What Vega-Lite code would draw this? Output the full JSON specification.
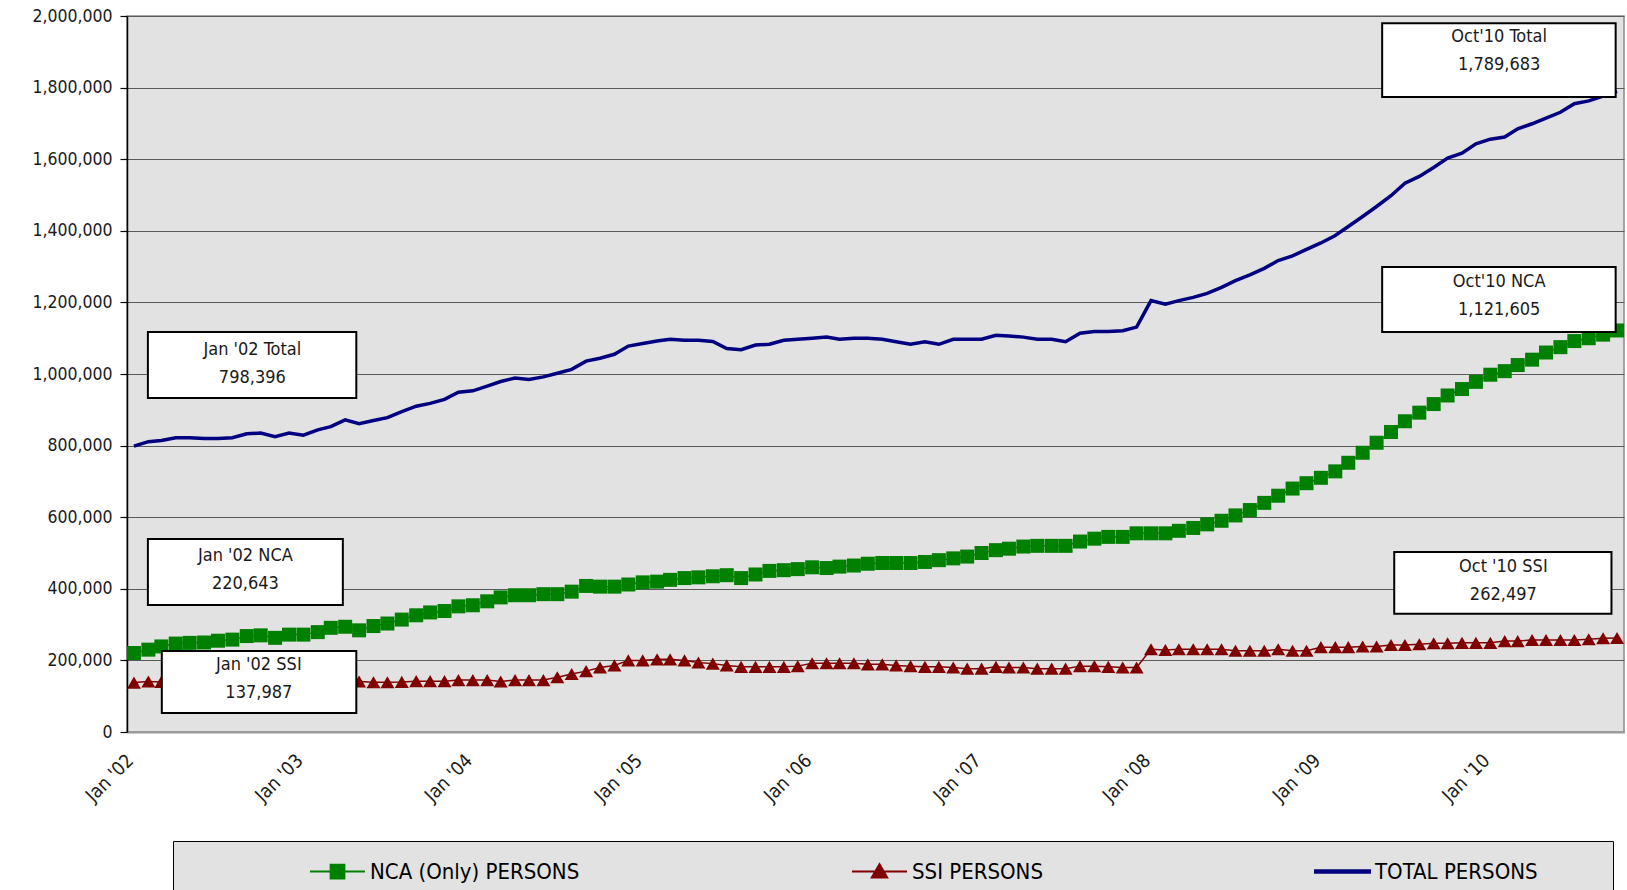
{
  "$schema": "https://vega.github.io/schema/vega-lite/v6.json",
  "width": 1497,
  "height": 716,
  "autosize": {"type": "none"},
  "padding": {"left": 127, "top": 16, "right": 3, "bottom": 158},
  "background": "white",
  "datasets": {
    "series": [
      {"date": "2002-01-01", "nca": 220643, "ssi": 137987, "total": 798396},
      {"date": "2002-02-01", "nca": 230000, "ssi": 141000, "total": 811000},
      {"date": "2002-03-01", "nca": 239000, "ssi": 140000, "total": 814000},
      {"date": "2002-04-01", "nca": 247000, "ssi": 141000, "total": 822000},
      {"date": "2002-05-01", "nca": 249000, "ssi": 140000, "total": 822000},
      {"date": "2002-06-01", "nca": 250000, "ssi": 140000, "total": 820000},
      {"date": "2002-07-01", "nca": 255000, "ssi": 141000, "total": 820000},
      {"date": "2002-08-01", "nca": 258000, "ssi": 140000, "total": 822000},
      {"date": "2002-09-01", "nca": 268000, "ssi": 141000, "total": 833000},
      {"date": "2002-10-01", "nca": 270000, "ssi": 142000, "total": 835000},
      {"date": "2002-11-01", "nca": 263000, "ssi": 139000, "total": 825000},
      {"date": "2002-12-01", "nca": 272000, "ssi": 140000, "total": 835000},
      {"date": "2003-01-01", "nca": 272000, "ssi": 141000, "total": 829000},
      {"date": "2003-02-01", "nca": 279000, "ssi": 141000, "total": 844000},
      {"date": "2003-03-01", "nca": 291000, "ssi": 142000, "total": 853000},
      {"date": "2003-04-01", "nca": 294000, "ssi": 142000, "total": 872000},
      {"date": "2003-05-01", "nca": 284000, "ssi": 141000, "total": 861000},
      {"date": "2003-06-01", "nca": 296000, "ssi": 139000, "total": 870000},
      {"date": "2003-07-01", "nca": 303000, "ssi": 139000, "total": 878000},
      {"date": "2003-08-01", "nca": 314000, "ssi": 140000, "total": 895000},
      {"date": "2003-09-01", "nca": 326000, "ssi": 142000, "total": 910000},
      {"date": "2003-10-01", "nca": 334000, "ssi": 142000, "total": 918000},
      {"date": "2003-11-01", "nca": 338000, "ssi": 142000, "total": 929000},
      {"date": "2003-12-01", "nca": 351000, "ssi": 145000, "total": 949000},
      {"date": "2004-01-01", "nca": 354000, "ssi": 145000, "total": 953000},
      {"date": "2004-02-01", "nca": 365000, "ssi": 145000, "total": 966000},
      {"date": "2004-03-01", "nca": 376000, "ssi": 141000, "total": 979000},
      {"date": "2004-04-01", "nca": 382000, "ssi": 145000, "total": 989000},
      {"date": "2004-05-01", "nca": 382000, "ssi": 145000, "total": 985000},
      {"date": "2004-06-01", "nca": 385000, "ssi": 145000, "total": 992000},
      {"date": "2004-07-01", "nca": 385000, "ssi": 153000, "total": 1002000},
      {"date": "2004-08-01", "nca": 392000, "ssi": 162000, "total": 1013000},
      {"date": "2004-09-01", "nca": 408000, "ssi": 170000, "total": 1036000},
      {"date": "2004-10-01", "nca": 406000, "ssi": 180000, "total": 1044000},
      {"date": "2004-11-01", "nca": 406000, "ssi": 186000, "total": 1055000},
      {"date": "2004-12-01", "nca": 412000, "ssi": 200000, "total": 1078000},
      {"date": "2005-01-01", "nca": 418000, "ssi": 200000, "total": 1085000},
      {"date": "2005-02-01", "nca": 420000, "ssi": 203000, "total": 1092000},
      {"date": "2005-03-01", "nca": 425000, "ssi": 203000, "total": 1097000},
      {"date": "2005-04-01", "nca": 430000, "ssi": 200000, "total": 1094000},
      {"date": "2005-05-01", "nca": 432000, "ssi": 194000, "total": 1094000},
      {"date": "2005-06-01", "nca": 435000, "ssi": 191000, "total": 1091000},
      {"date": "2005-07-01", "nca": 438000, "ssi": 186000, "total": 1071000},
      {"date": "2005-08-01", "nca": 430000, "ssi": 182000, "total": 1068000},
      {"date": "2005-09-01", "nca": 440000, "ssi": 182000, "total": 1081000},
      {"date": "2005-10-01", "nca": 450000, "ssi": 182000, "total": 1083000},
      {"date": "2005-11-01", "nca": 452000, "ssi": 182000, "total": 1094000},
      {"date": "2005-12-01", "nca": 455000, "ssi": 184000, "total": 1097000},
      {"date": "2006-01-01", "nca": 460000, "ssi": 192000, "total": 1100000},
      {"date": "2006-02-01", "nca": 458000, "ssi": 192000, "total": 1103000},
      {"date": "2006-03-01", "nca": 462000, "ssi": 192000, "total": 1097000},
      {"date": "2006-04-01", "nca": 465000, "ssi": 192000, "total": 1100000},
      {"date": "2006-05-01", "nca": 470000, "ssi": 189000, "total": 1100000},
      {"date": "2006-06-01", "nca": 472000, "ssi": 189000, "total": 1097000},
      {"date": "2006-07-01", "nca": 472000, "ssi": 186000, "total": 1090000},
      {"date": "2006-08-01", "nca": 472000, "ssi": 184000, "total": 1083000},
      {"date": "2006-09-01", "nca": 475000, "ssi": 182000, "total": 1090000},
      {"date": "2006-10-01", "nca": 480000, "ssi": 182000, "total": 1083000},
      {"date": "2006-11-01", "nca": 485000, "ssi": 180000, "total": 1097000},
      {"date": "2006-12-01", "nca": 490000, "ssi": 177000, "total": 1097000},
      {"date": "2007-01-01", "nca": 500000, "ssi": 177000, "total": 1097000},
      {"date": "2007-02-01", "nca": 508000, "ssi": 182000, "total": 1108000},
      {"date": "2007-03-01", "nca": 512000, "ssi": 180000, "total": 1106000},
      {"date": "2007-04-01", "nca": 518000, "ssi": 180000, "total": 1103000},
      {"date": "2007-05-01", "nca": 520000, "ssi": 177000, "total": 1097000},
      {"date": "2007-06-01", "nca": 520000, "ssi": 177000, "total": 1097000},
      {"date": "2007-07-01", "nca": 520000, "ssi": 177000, "total": 1090000},
      {"date": "2007-08-01", "nca": 532000, "ssi": 184000, "total": 1114000},
      {"date": "2007-09-01", "nca": 540000, "ssi": 184000, "total": 1119000},
      {"date": "2007-10-01", "nca": 545000, "ssi": 182000, "total": 1119000},
      {"date": "2007-11-01", "nca": 545000, "ssi": 180000, "total": 1121000},
      {"date": "2007-12-01", "nca": 555000, "ssi": 180000, "total": 1131000},
      {"date": "2008-01-01", "nca": 555000, "ssi": 231000, "total": 1205000},
      {"date": "2008-02-01", "nca": 555000, "ssi": 229000, "total": 1195000},
      {"date": "2008-03-01", "nca": 562000, "ssi": 231000, "total": 1205000},
      {"date": "2008-04-01", "nca": 570000, "ssi": 231000, "total": 1214000},
      {"date": "2008-05-01", "nca": 580000, "ssi": 231000, "total": 1225000},
      {"date": "2008-06-01", "nca": 590000, "ssi": 231000, "total": 1242000},
      {"date": "2008-07-01", "nca": 605000, "ssi": 227000, "total": 1261000},
      {"date": "2008-08-01", "nca": 620000, "ssi": 227000, "total": 1277000},
      {"date": "2008-09-01", "nca": 640000, "ssi": 227000, "total": 1295000},
      {"date": "2008-10-01", "nca": 660000, "ssi": 231000, "total": 1317000},
      {"date": "2008-11-01", "nca": 680000, "ssi": 227000, "total": 1330000},
      {"date": "2008-12-01", "nca": 695000, "ssi": 227000, "total": 1348000},
      {"date": "2009-01-01", "nca": 710000, "ssi": 237000, "total": 1366000},
      {"date": "2009-02-01", "nca": 728000, "ssi": 237000, "total": 1387000},
      {"date": "2009-03-01", "nca": 752000, "ssi": 237000, "total": 1412000},
      {"date": "2009-04-01", "nca": 780000, "ssi": 239000, "total": 1440000},
      {"date": "2009-05-01", "nca": 808000, "ssi": 239000, "total": 1468000},
      {"date": "2009-06-01", "nca": 838000, "ssi": 243000, "total": 1498000},
      {"date": "2009-07-01", "nca": 868000, "ssi": 243000, "total": 1533000},
      {"date": "2009-08-01", "nca": 892000, "ssi": 245000, "total": 1552000},
      {"date": "2009-09-01", "nca": 916000, "ssi": 248000, "total": 1577000},
      {"date": "2009-10-01", "nca": 940000, "ssi": 248000, "total": 1603000},
      {"date": "2009-11-01", "nca": 958000, "ssi": 249000, "total": 1617000},
      {"date": "2009-12-01", "nca": 978000, "ssi": 249000, "total": 1643000},
      {"date": "2010-01-01", "nca": 998000, "ssi": 249000, "total": 1656000},
      {"date": "2010-02-01", "nca": 1008000, "ssi": 254000, "total": 1662000},
      {"date": "2010-03-01", "nca": 1025000, "ssi": 254000, "total": 1685000},
      {"date": "2010-04-01", "nca": 1040000, "ssi": 257000, "total": 1699000},
      {"date": "2010-05-01", "nca": 1060000, "ssi": 257000, "total": 1715000},
      {"date": "2010-06-01", "nca": 1075000, "ssi": 257000, "total": 1731000},
      {"date": "2010-07-01", "nca": 1092000, "ssi": 257000, "total": 1755000},
      {"date": "2010-08-01", "nca": 1100000, "ssi": 259000, "total": 1763000},
      {"date": "2010-09-01", "nca": 1110000, "ssi": 262000, "total": 1776000},
      {"date": "2010-10-01", "nca": 1121605, "ssi": 262497, "total": 1789683}
    ],
    "notes": [
      {"x1": "2002-01-31", "x2": "2003-04-25", "y1": 1117000, "y2": 933000, "tx": "2002-09-13", "ty": 1068000, "label": ["Jan '02 Total", "798,396"]},
      {"x1": "2002-01-31", "x2": "2003-03-27", "y1": 539000, "y2": 355000, "tx": "2002-08-29", "ty": 493000, "label": ["Jan '02 NCA", "220,643"]},
      {"x1": "2002-03-02", "x2": "2003-04-25", "y1": 226000, "y2": 53000, "tx": "2002-09-27", "ty": 186000, "label": ["Jan '02 SSI", "137,987"]},
      {"x1": "2009-05-13", "x2": "2010-09-28", "y1": 1980000, "y2": 1774000, "tx": "2010-01-20", "ty": 1941000, "label": ["Oct'10 Total", "1,789,683"]},
      {"x1": "2009-05-13", "x2": "2010-09-28", "y1": 1299000, "y2": 1117000, "tx": "2010-01-20", "ty": 1257000, "label": ["Oct'10 NCA", "1,121,605"]},
      {"x1": "2009-06-08", "x2": "2010-09-19", "y1": 503000, "y2": 330000, "tx": "2010-01-29", "ty": 461000, "label": ["Oct '10 SSI", "262,497"]}
    ]
  },
  "encoding": {
    "x": {
      "field": "date", "type": "temporal",
      "scale": {"type": "utc", "domain": [{"year": 2001, "month": 12, "date": 17, "utc": true}, {"year": 2010, "month": 10, "date": 16, "utc": true}], "nice": false},
      "axis": {
        "title": null,
        "values": [
          {"year": 2002, "month": 1, "date": 1, "utc": true},
          {"year": 2003, "month": 1, "date": 1, "utc": true},
          {"year": 2004, "month": 1, "date": 1, "utc": true},
          {"year": 2005, "month": 1, "date": 1, "utc": true},
          {"year": 2006, "month": 1, "date": 1, "utc": true},
          {"year": 2007, "month": 1, "date": 1, "utc": true},
          {"year": 2008, "month": 1, "date": 1, "utc": true},
          {"year": 2009, "month": 1, "date": 1, "utc": true},
          {"year": 2010, "month": 1, "date": 1, "utc": true}
        ],
        "format": "%b '%y",
        "labelAngle": -45,
        "labelAlign": "right",
        "labelBaseline": "middle",
        "labelPadding": 25,
        "labelOffset": -4,
        "labelFontSize": 19,
        "ticks": false,
        "grid": false,
        "domainColor": "#9a9a9a",
        "domainWidth": 2,
        "labelOverlap": false
      }
    },
    "y": {
      "type": "quantitative",
      "scale": {"domain": [0, 2000000], "nice": false},
      "axis": {
        "title": null,
        "values": [0, 200000, 400000, 600000, 800000, 1000000, 1200000, 1400000, 1600000, 1800000, 2000000],
        "format": ",.0f",
        "grid": true,
        "gridColor": "#5a5a5a",
        "gridWidth": 1.2,
        "tickSize": 7,
        "tickColor": "#000000",
        "tickWidth": 1.2,
        "domainColor": "#000000",
        "domainWidth": 1.5,
        "labelPadding": 8,
        "labelOverlap": false
      }
    }
  },
  "layer": [
    {
      "data": {"name": "series"},
      "transform": [{"fold": ["nca", "ssi", "total"], "as": ["series", "value"]}],
      "mark": {"type": "line", "interpolate": "linear"},
      "encoding": {
        "y": {"field": "value", "type": "quantitative"},
        "color": {
          "field": "series", "type": "nominal",
          "scale": {"domain": ["nca", "ssi", "total"], "range": ["#008000", "#800000", "#000080"]},
          "legend": {
            "orient": "none",
            "legendX": 46,
            "legendY": 825,
            "direction": "horizontal",
            "title": " ",
            "titleOrient": "left",
            "titleFontSize": 2,
            "titlePadding": 134,
            "padding": 2,
            "fillColor": "#e2e2e2",
            "strokeColor": "#000000",
            "columnPadding": 268,
            "symbolSize": 3025,
            "symbolStrokeWidth": 2,
            "labelFontSize": 22,
            "labelColor": "#000000",
            "labelOffset": 4,
            "labelLimit": 900,
            "labelExpr": "datum.value === 'nca' ? 'NCA (Only) PERSONS' : datum.value === 'ssi' ? 'SSI PERSONS' : 'TOTAL PERSONS\u2800\u2800\u2800\u2800\u2800'",
            "encode": {
              "symbols": {
                "update": {
                  "size": {"value": 3025},
                  "strokeWidth": {"value": 2},
                  "shape": {"signal": "datum.value === 'nca' ? 'M-1,0H1M-0.25,-0.25H0.25V0.25H-0.25ZM0,-1M0,1' : datum.value === 'ssi' ? 'M-1,0H1M0,-0.26L0.28,0.22H-0.28ZM0,-1M0,1' : 'M-1,-0.045H1V0.045H-1ZM0,-1M0,1'"},
                  "fill": {"signal": "datum.value === 'nca' ? '#008000' : datum.value === 'ssi' ? '#800000' : '#000080'"},
                  "stroke": {"signal": "datum.value === 'nca' ? '#008000' : datum.value === 'ssi' ? '#800000' : '#000080'"},
                  "opacity": {"value": 1}
                }
              }
            }
          }
        },
        "strokeWidth": {"condition": {"test": "datum.series === 'total'", "value": 3.5}, "value": 1.5}
      }
    },
    {
      "data": {"name": "series"},
      "mark": {"type": "point", "shape": "square", "filled": true, "size": 196, "color": "#008000", "opacity": 1},
      "encoding": {"y": {"field": "nca", "type": "quantitative"}}
    },
    {
      "data": {"name": "series"},
      "mark": {"type": "point", "shape": "triangle-up", "filled": true, "size": 196, "color": "#800000", "opacity": 1},
      "encoding": {"y": {"field": "ssi", "type": "quantitative"}}
    },
    {
      "data": {"name": "notes"},
      "mark": {"type": "rect", "fill": "#ffffff", "stroke": "#000000", "strokeWidth": 2},
      "encoding": {
        "x": {"field": "x1", "type": "temporal"},
        "x2": {"field": "x2"},
        "y": {"field": "y1", "type": "quantitative"},
        "y2": {"field": "y2"}
      }
    },
    {
      "data": {"name": "notes"},
      "mark": {"type": "text", "align": "center", "baseline": "middle", "fontSize": 18, "lineHeight": 28, "color": "#1a1a1a"},
      "encoding": {
        "x": {"field": "tx", "type": "temporal"},
        "y": {"field": "ty", "type": "quantitative"},
        "text": {"field": "label"}
      }
    }
  ],
  "config": {
    "font": "DejaVu Sans Condensed, DejaVu Sans, sans-serif",
    "view": {"fill": "#e2e2e2", "stroke": "#8c8c8c", "strokeWidth": 1.5},
    "axis": {"labelFont": "DejaVu Sans Condensed, DejaVu Sans, sans-serif", "labelFontSize": 17.5, "labelColor": "#1a1a1a"},
    "legend": {"labelFont": "DejaVu Sans Condensed, DejaVu Sans, sans-serif"},
    "text": {"font": "DejaVu Sans Condensed, DejaVu Sans, sans-serif"}
  }
}
